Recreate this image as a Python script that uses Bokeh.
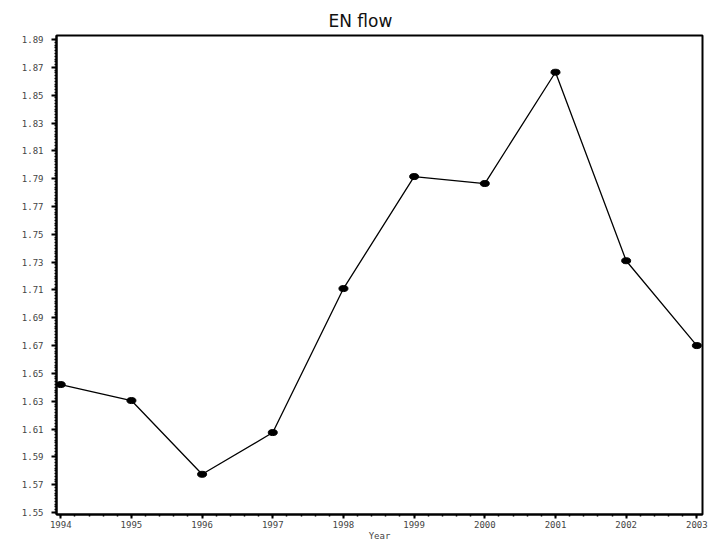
from bokeh.plotting import figure
from bokeh.models import FixedTicker, Range1d
from bokeh.embed import file_html
from bokeh.resources import INLINE

# Data
years = [1994, 1995, 1996, 1997, 1998, 1999, 2000, 2001, 2002, 2003]
flow = [1.642, 1.6305, 1.5775, 1.6075, 1.711, 1.7915, 1.7865, 1.8665, 1.731, 1.670]

x_ticks = [1994, 1995, 1996, 1997, 1998, 1999, 2000, 2001, 2002, 2003]
x_tick_labels = ["1994", "1995", "1996", "1997", "1998", "1999", "2000", "2001", "2002", "2003"]
y_ticks = [1.55, 1.57, 1.59, 1.61, 1.63, 1.65, 1.67, 1.69, 1.71, 1.73, 1.75, 1.77,
           1.79, 1.81, 1.83, 1.85, 1.87, 1.89]
y_tick_labels = ["1.55", "1.57", "1.59", "1.61", "1.63", "1.65", "1.67", "1.69", "1.71",
                 "1.73", "1.75", "1.77", "1.79", "1.81", "1.83", "1.85", "1.87", "1.89"]
title_text = "EN flow"
x_label = "Year"

x_minor = [round(1994 + i * 0.2, 2) for i in range(46)]
y_minor = [round(1.55 + i * 0.002, 4) for i in range(171)]

p = figure(width=714, height=544, output_backend="svg", toolbar_location=None,
           x_range=Range1d(1993.94, 2003.08), y_range=Range1d(1.5486, 1.8929),
           min_border_left=56, min_border_right=12, min_border_top=35, min_border_bottom=30,
           title=title_text)

p.title.align = "left"
p.title.offset = 272
p.title.text_font = "DejaVu Sans"
p.title.text_font_size = "17px"
p.title.text_font_style = "normal"
p.title.text_color = "#111111"
p.title.standoff = 10

p.grid.visible = False
p.outline_line_color = "black"
p.outline_line_width = 2
p.outline_line_alpha = 1.0
p.background_fill_color = "white"
p.border_fill_color = "white"

p.xaxis.ticker = FixedTicker(ticks=x_ticks, minor_ticks=x_minor)
p.yaxis.ticker = FixedTicker(ticks=y_ticks, minor_ticks=y_minor)
p.xaxis.major_label_overrides = {t: s for t, s in zip(x_ticks, x_tick_labels)}
p.yaxis.major_label_overrides = {t: s for t, s in zip(y_ticks, y_tick_labels)}

for ax in (p.xaxis, p.yaxis):
    ax.axis_line_width = 2
    ax.axis_line_color = "black"
    ax.major_tick_line_color = "black"
    ax.major_tick_line_width = 2
    ax.minor_tick_line_color = "black"
    ax.minor_tick_line_width = 1.5
    ax.major_tick_in = 0
    ax.minor_tick_in = 0
    ax.major_label_text_font = "DejaVu Sans Mono"
    ax.major_label_text_font_size = "9px"
    ax.major_label_text_color = "#444444"

p.yaxis.major_tick_out = 5
p.yaxis.minor_tick_out = 2
p.yaxis.major_label_standoff = 8
p.xaxis.major_tick_out = 4
p.xaxis.minor_tick_out = 2
p.xaxis.major_label_standoff = 2

p.xaxis.axis_label = x_label
p.xaxis.axis_label_text_font = "DejaVu Sans Mono"
p.xaxis.axis_label_text_font_size = "9px"
p.xaxis.axis_label_text_font_style = "normal"
p.xaxis.axis_label_text_color = "#444444"
p.xaxis.axis_label_standoff = 0

p.line(years, flow, line_color="black", line_width=1.3)
p.ellipse(x=years, y=flow, width=9, height=6, width_units="screen", height_units="screen",
          fill_color="black", line_color="black")

open("out.html", "w").write(file_html(p, INLINE))
